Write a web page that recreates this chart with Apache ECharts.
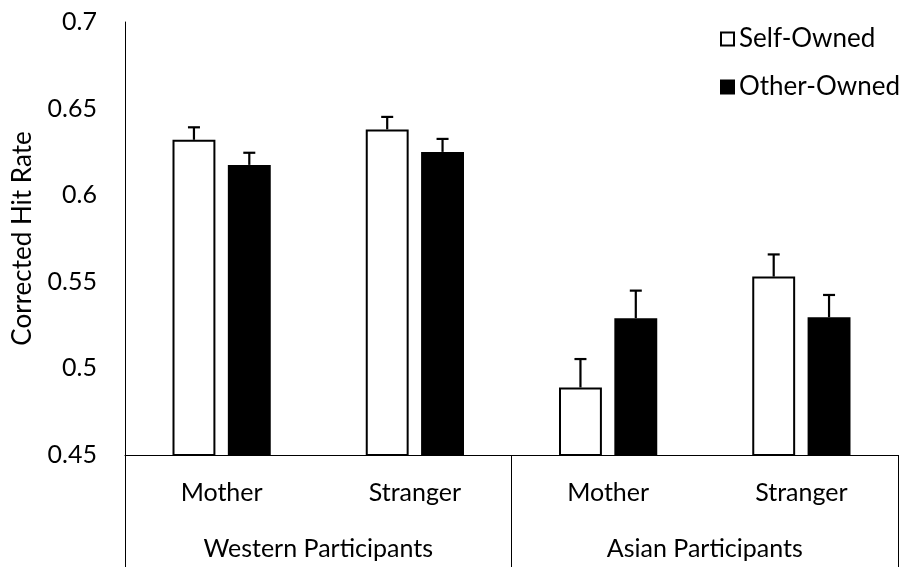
<!DOCTYPE html>
<html>
<head>
<meta charset="utf-8">
<script src="https://cdn.jsdelivr.net/npm/echarts@6/dist/echarts.min.js"></script>
<style>html,body{margin:0;padding:0;background:#fff}#c{width:903px;height:567px}</style>
</head>
<body>
<div id="c"></div>
<script>
var categories = ['Mother', 'Stranger', 'Mother', 'Stranger'];
var groups = ['Western Participants', 'Asian Participants'];
var seriesNames = ['Self-Owned', 'Other-Owned'];
var selfMeans = [0.632, 0.638, 0.489, 0.553];
var otherMeans = [0.6175, 0.625, 0.529, 0.5295];
var selfErr = [0.0072, 0.0072, 0.0164, 0.0128];
var otherErr = [0.007, 0.0075, 0.0159, 0.0129];
var yTicks = { min: 0.45, max: 0.7, interval: 0.05 };

var BAR_W = 0.222, BAR_GAP = 0.29;
var FONT = 'Lato';

function errData(means, errs, side) {
  return means.map(function (v, i) { return [i, v, errs[i], side]; });
}
function renderErr(params, api) {
  var x = api.value(0), v = api.value(1), e = api.value(2), side = api.value(3);
  var band = api.size([1, 0])[0];
  var bw = band * BAR_W, gap = bw * BAR_GAP;
  var off = side * (bw + gap) / 2;
  var p0 = api.coord([x, v]);
  var p1 = api.coord([x, v + e]);
  var cx = p0[0] + off;
  var st = { stroke: '#000', lineWidth: 2.2 };
  return {
    type: 'group',
    children: [
      { type: 'line', shape: { x1: cx, y1: p0[1], x2: cx, y2: p1[1] }, style: st },
      { type: 'line', shape: { x1: cx - 6, y1: p1[1], x2: cx + 6, y2: p1[1] }, style: st }
    ]
  };
}

var chart = echarts.init(document.getElementById('c'), null, { renderer: 'canvas' });
chart.setOption({
  animation: false,
  textStyle: { fontFamily: FONT, color: '#000' },
  grid: { left: 125, right: 5, top: 22, bottom: 112, containLabel: false, outerBoundsMode: 'none' },
  legend: {
    data: seriesNames,
    orient: 'vertical',
    left: 720,
    top: 26,
    padding: 0,
    icon: 'rect',
    itemWidth: 13,
    itemHeight: 13,
    itemGap: 22,
    textStyle: { fontFamily: FONT, fontSize: 26, color: '#000', padding: [0, 0, 0, 0] }
  },
  xAxis: [
    {
      type: 'category',
      data: categories,
      axisLine: { lineStyle: { color: '#000', width: 1 } },
      axisTick: { show: false },
      axisLabel: { fontFamily: FONT, fontSize: 25, color: '#000', margin: 25 }
    },
    {
      type: 'category',
      data: groups,
      position: 'bottom',
      axisLine: { show: false },
      axisTick: { show: true, length: 112, lineStyle: { color: '#000', width: 1 } },
      axisLabel: { fontFamily: FONT, fontSize: 25, color: '#000', margin: 81 }
    }
  ],
  yAxis: {
    type: 'value',
    min: yTicks.min,
    max: yTicks.max,
    interval: yTicks.interval,
    name: 'Corrected Hit Rate',
    nameLocation: 'middle',
    nameGap: 89,
    nameTextStyle: { fontFamily: FONT, fontSize: 26, color: '#000' },
    axisLine: { show: true, lineStyle: { color: '#000', width: 1 } },
    axisTick: { show: false },
    splitLine: { show: false },
    axisLabel: {
      fontFamily: FONT, fontSize: 25, color: '#000', margin: 28,
      formatter: function (v) { return String(parseFloat(v.toFixed(2))); }
    }
  },
  series: [
    {
      name: seriesNames[0], type: 'bar', xAxisIndex: 0, data: selfMeans,
      barWidth: (BAR_W * 100) + '%', barGap: (BAR_GAP * 100) + '%',
      itemStyle: { color: '#fff', borderColor: '#000', borderWidth: 2 }
    },
    {
      name: seriesNames[1], type: 'bar', xAxisIndex: 0, data: otherMeans,
      barWidth: (BAR_W * 100) + '%', barGap: (BAR_GAP * 100) + '%',
      itemStyle: { color: '#000', borderColor: '#000', borderWidth: 2 }
    },
    {
      type: 'custom', xAxisIndex: 0, renderItem: renderErr, z: 5,
      encode: { x: 0, y: 1 }, data: errData(selfMeans, selfErr, -1)
    },
    {
      type: 'custom', xAxisIndex: 0, renderItem: renderErr, z: 5,
      encode: { x: 0, y: 1 }, data: errData(otherMeans, otherErr, 1)
    }
  ]
});
</script>
</body>
</html>
